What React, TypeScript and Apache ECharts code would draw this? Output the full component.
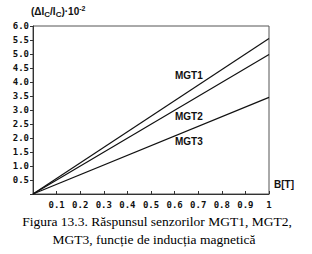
import React, { useEffect, useRef } from "react";
import * as echarts from "echarts";

const bValues = [0, 1];
const mgt1 = [0, 5.55];
const mgt2 = [0, 4.98];
const mgt3 = [0, 3.45];
const seriesNames = ["MGT1", "MGT2", "MGT3"];
const captionLines = [
  "Figura 13.3. Răspunsul senzorilor MGT1, MGT2,",
  "MGT3, funcție de inducția magnetică",
];

export default function App() {
  const ref = useRef<HTMLDivElement>(null);
  useEffect(() => {
    const chart = echarts.init(ref.current!, null, { renderer: "svg" });
    const mono = "DejaVu Sans Mono";
    const mk = (vals: number[], name: string) => ({
      type: "line",
      name,
      data: bValues.map((b, i) => [b, vals[i]]),
      showSymbol: false,
      lineStyle: { color: "#111", width: 1.2 },
      silent: true,
    });
    const lbl = (text: string, x: number, y: number) => ({
      type: "text",
      x,
      y,
      style: { text, fontFamily: "Liberation Sans", fontWeight: "bold", fontSize: 10, fill: "#111" },
    });
    chart.setOption({
      animation: false,
      backgroundColor: "#fff",
      grid: {
        left: 33,
        right: 43,
        top: 26,
        bottom: 60,
        show: true,
        borderColor: "#555",
        borderWidth: 1,
        backgroundColor: "transparent",
      },
      xAxis: {
        type: "value",
        min: 0,
        max: 1,
        interval: 0.1,
        axisLine: { lineStyle: { color: "#333", width: 1 } },
        axisTick: { inside: true, length: 3, lineStyle: { color: "#333" } },
        splitLine: { show: false },
        axisLabel: {
          margin: 6,
          color: "#111",
          fontFamily: mono,
          fontWeight: "bold",
          fontSize: 9,
          formatter: (v: number) =>
            v === 0 ? "" : v >= 0.999 ? "1" : v.toFixed(1),
        },
      },
      yAxis: {
        type: "value",
        min: 0,
        max: 6,
        interval: 0.5,
        axisLine: { show: true, lineStyle: { color: "#333", width: 1 } },
        axisTick: { show: true, length: 3, lineStyle: { color: "#333" } },
        splitLine: { show: false },
        axisLabel: {
          margin: 4,
          color: "#111",
          fontFamily: mono,
          fontWeight: "bold",
          fontSize: 9,
          formatter: (v: number) => (v === 0 ? "" : v.toFixed(1)),
        },
      },
      series: [mk(mgt1, seriesNames[0]), mk(mgt2, seriesNames[1]), mk(mgt3, seriesNames[2])],
      graphic: [
        {
          type: "text",
          x: 31,
          y: 4,
          style: {
            text: "(ΔI{sub|C}/I{sub|C})·10{sup|-2}",
            fontFamily: "Liberation Sans",
            fontWeight: "bold",
            fontSize: 10,
            fill: "#111",
            rich: {
              sub: { fontSize: 8, fontWeight: "bold", padding: [6, 0, 0, 0], fontFamily: "Liberation Sans" },
              sup: { fontSize: 7, fontWeight: "bold", padding: [0, 0, 6, 0], fontFamily: "Liberation Sans" },
            },
          },
        },
        lbl("B[T]", 274, 179),
        lbl(seriesNames[0], 175, 70),
        lbl(seriesNames[1], 175, 111),
        lbl(seriesNames[2], 175, 136),
        {
          type: "text",
          x: 157,
          y: 214,
          style: {
            text: captionLines[0],
            align: "center",
            fontFamily: "Liberation Serif",
            fontSize: 13.5,
            fill: "#000",
          },
        },
        {
          type: "text",
          x: 154,
          y: 232,
          style: {
            text: captionLines[1],
            align: "center",
            fontFamily: "Liberation Serif",
            fontSize: 13.5,
            fill: "#000",
          },
        },
      ],
    });
    return () => chart.dispose();
  }, []);
  return <div ref={ref} style={{ width: 312, height: 254, position: "absolute", left: 0, top: 0 }} />;
}
